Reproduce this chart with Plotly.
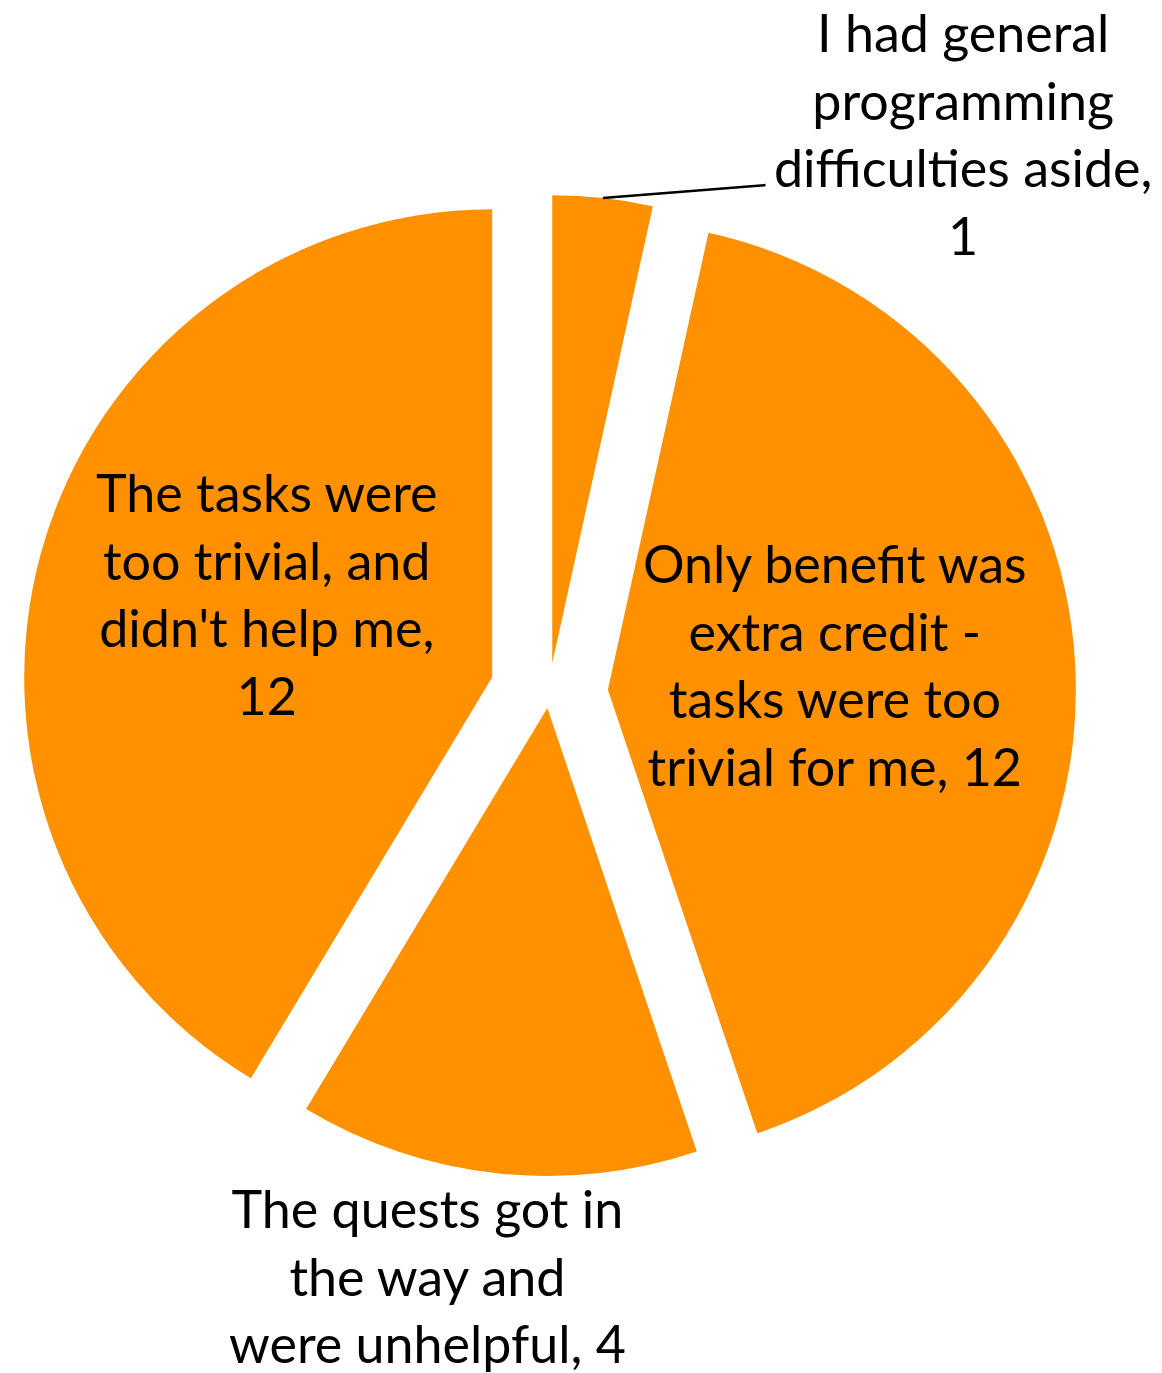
import math
import plotly.graph_objects as go

# ---- data ----
categories = [
    "I had general<br>programming<br>difficulties aside,",
    "Only benefit was<br>extra credit -<br>tasks were too<br>trivial for me,",
    "The quests got in<br>the way and<br>were unhelpful,",
    "The tasks were<br>too trivial, and<br>didn't help me,",
]
values = [1, 12, 4, 12]
value_sep = ["<br>", " ", " ", "<br>"]
pulls = [0.064, 0.126, 0.032, 0.126]

# ---- layout constants (pixels) ----
W, H = 1162, 1373
CX, CY, R = 549, 693, 468
SLICE_COLOR = "#FF9100"
FONT = "Lato, 'Open Sans', sans-serif"
FS = 52

box = 2 * R * (1 + max(pulls))
dom_x = [(CX - box / 2) / W, (CX + box / 2) / W]
dom_y = [1 - (CY + box / 2) / H, 1 - (CY - box / 2) / H]

fig = go.Figure(go.Pie(
    labels=[c.replace("<br>", " ") for c in categories],
    values=values,
    sort=False,
    direction="clockwise",
    rotation=0,
    pull=pulls,
    marker=dict(colors=[SLICE_COLOR] * len(values), line=dict(width=0)),
    textinfo="none",
    domain=dict(x=dom_x, y=dom_y),
    showlegend=False,
))

texts = [f"{c}{s}{v}" for c, s, v in zip(categories, value_sep, values)]
label_pos = [(963, 133), (835, 664), (427, 1275), (266, 593)]

annotations = []
for t, (px, py) in zip(texts, label_pos):
    annotations.append(dict(
        text=t, x=px / W, y=1 - py / H, xref="paper", yref="paper",
        xanchor="center", yanchor="middle", align="center", showarrow=False,
        font=dict(family=FONT, size=FS, color="#000000"),
    ))

# leader line for the small first slice, starting on its outer arc
total = sum(values)
mid = math.radians(0.5 * 360 * values[0] / total)
ax0 = CX + pulls[0] * R * math.sin(mid) + R * math.sin(mid)
ay0 = CY - pulls[0] * R * math.cos(mid) - R * math.cos(mid)
tail = (767, 185)
annotations.append(dict(
    text=" ", x=ax0 / W, y=1 - ay0 / H, xref="paper", yref="paper",
    ax=tail[0] - ax0, ay=tail[1] - ay0, axref="pixel", ayref="pixel",
    showarrow=True, arrowhead=0, arrowwidth=2.5, arrowcolor="#000000",
    font=dict(size=1),
))

fig.update_layout(
    width=W, height=H,
    margin=dict(l=0, r=0, t=0, b=0),
    paper_bgcolor="#FFFFFF",
    plot_bgcolor="#FFFFFF",
    annotations=annotations,
)

fig.write_html("out.html")
